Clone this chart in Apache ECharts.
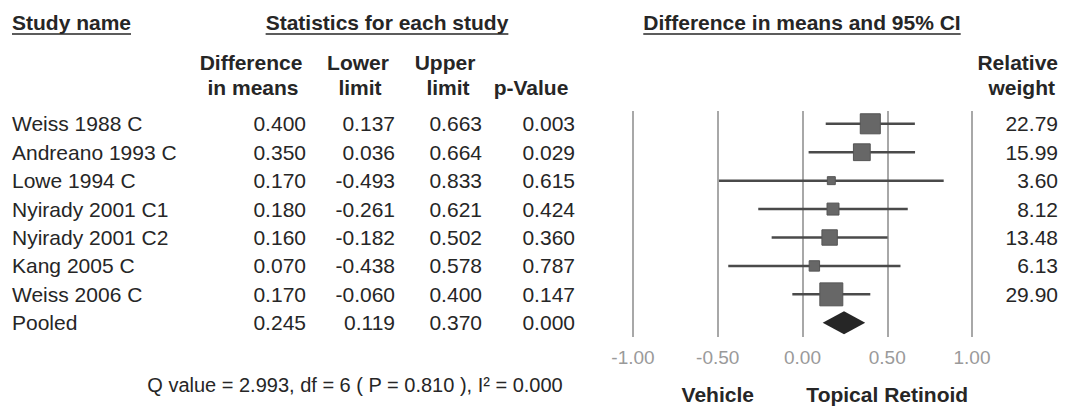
<!DOCTYPE html>
<html>
<head>
<meta charset="utf-8">
<script src="https://cdn.jsdelivr.net/npm/echarts@6/dist/echarts.min.js"></script>
<style>html,body{margin:0;padding:0;background:#fff}#chart{width:1067px;height:407px}</style>
</head>
<body>
<div id="chart"></div>
<script>
// ---- data ----
const studies = ['Weiss 1988 C', 'Andreano 1993 C', 'Lowe 1994 C', 'Nyirady 2001 C1', 'Nyirady 2001 C2', 'Kang 2005 C', 'Weiss 2006 C'];
const diffs = [0.400, 0.350, 0.170, 0.180, 0.160, 0.070, 0.170];
const lowers = [0.137, 0.036, -0.493, -0.261, -0.182, -0.438, -0.060];
const uppers = [0.663, 0.664, 0.833, 0.621, 0.502, 0.578, 0.400];
const pValues = [0.003, 0.029, 0.615, 0.424, 0.360, 0.787, 0.147];
const weights = [22.79, 15.99, 3.60, 8.12, 13.48, 6.13, 29.90];
const pooledName = 'Pooled';
const pooledStats = [0.245, 0.119, 0.370];
const pooledP = 0.000;
const qText = 'Q value = 2.993, df = 6 ( P = 0.810 ), I\u00b2 = 0.000';
const xTicks = [-1.0, -0.5, 0.0, 0.5, 1.0];
const favourLabels = ['Vehicle', 'Topical Retinoid'];

// ---- styling ----
const FONT = '"Liberation Sans", Arial, sans-serif';
const FS = 21;
const TXT = '#262626';
const colRight = [306, 395, 482, 575];
const weightRight = 1058;

const chart = echarts.init(document.getElementById('chart'), null, {renderer: 'svg'});

const measure = (() => {
  const c = document.createElement('canvas').getContext('2d');
  return (t, bold) => { c.font = (bold ? 'bold ' : '') + FS + 'px ' + FONT; return c.measureText(t).width; };
})();

const tableRows = studies.map((s, i) => [i, s, diffs[i], lowers[i], uppers[i], pValues[i], weights[i]]);
tableRows.push([studies.length, pooledName, pooledStats[0], pooledStats[1], pooledStats[2], pooledP, null]);

function txt(text, x, y, align, bold) {
  return {type: 'text', style: {text: text, x: x, y: y, align: align, verticalAlign: 'middle',
    font: (bold ? 'bold ' : '') + FS + 'px ' + FONT, fill: TXT}};
}

function headerWithLine(text, x, align) {
  const w = measure(text, true);
  const x0 = align === 'center' ? x - w / 2 : x;
  return [
    {type: 'text', style: {text: text, x: x, y: 22, align: align, verticalAlign: 'middle', font: 'bold ' + FS + 'px ' + FONT, fill: TXT}},
    {type: 'line', shape: {x1: x0, y1: 34, x2: x0 + w, y2: 34}, style: {stroke: TXT, lineWidth: 1.5}}
  ];
}

const graphics = [].concat(
  headerWithLine('Study name', 12, 'left'),
  headerWithLine('Statistics for each study', 387, 'center'),
  headerWithLine('Difference in means and 95% CI', 802, 'center'),
  [
    txt('Difference', 251, 62, 'center', true), txt('in means', 253, 87, 'center', true),
    txt('Lower', 358, 62, 'center', true), txt('limit', 360, 87, 'center', true),
    txt('Upper', 445, 62, 'center', true), txt('limit', 448, 87, 'center', true),
    txt('p-Value', 531, 87, 'center', true),
    txt('Relative', weightRight, 62, 'right', true), txt('weight', weightRight - 3, 87, 'right', true),
    {type: 'text', style: {text: qText, x: 355, y: 385, align: 'center', verticalAlign: 'middle', font: '20px ' + FONT, fill: TXT}}
  ]
);

const option = {
  animation: false,
  grid: {left: 633, top: 111, width: 339, height: 226, containLabel: false},
  xAxis: {
    type: 'value', min: -1, max: 1, interval: 0.5,
    axisLine: {show: false}, axisTick: {show: false},
    splitLine: {show: true, lineStyle: {color: '#a8a8a8', width: 2}},
    axisLabel: {color: '#9a9a9a', fontSize: 19, fontFamily: FONT, margin: 11,
      formatter: v => v.toFixed(2)}
  },
  yAxis: {type: 'value', inverse: true, min: -0.45, max: 7.5, show: false},
  graphic: graphics,
  series: [
    {
      // table text drawn at the rows of the y scale
      type: 'custom', clip: false, silent: true,
      data: tableRows,
      encode: {x: null, y: 0},
      renderItem: (params, api) => {
        const i = api.value(0);
        const row = tableRows[i];
        const y = api.coord([0, i])[1];
        const children = [txt(row[1], 12, y, 'left', false)];
        for (let k = 0; k < 4; k++) children.push(txt(row[2 + k].toFixed(3), colRight[k], y, 'right', false));
        if (row[6] != null) children.push(txt(row[6].toFixed(2), weightRight, y, 'right', false));
        return {type: 'group', children: children};
      }
    },
    {
      // study CIs and weighted squares
      type: 'custom', clip: false,
      data: studies.map((s, i) => [diffs[i], i, lowers[i], uppers[i], weights[i]]),
      encode: {x: [0, 2, 3], y: 1},
      renderItem: (params, api) => {
        const c = api.coord([api.value(0), api.value(1)]);
        const lo = api.coord([api.value(2), api.value(1)]);
        const hi = api.coord([api.value(3), api.value(1)]);
        const s = 4.2 * Math.sqrt(api.value(4));
        return {type: 'group', children: [
          {type: 'line', shape: {x1: lo[0], y1: lo[1], x2: hi[0], y2: hi[1]}, style: {stroke: '#4a4a4a', lineWidth: 2.5}},
          {type: 'rect', shape: {x: c[0] - s / 2, y: c[1] - s / 2, width: s, height: s},
            style: {fill: '#676767', stroke: '#555', lineWidth: 1}}
        ]};
      }
    },
    {
      // pooled diamond
      type: 'custom', clip: false,
      data: [[pooledStats[0], studies.length, pooledStats[1], pooledStats[2]]],
      encode: {x: [0, 2, 3], y: 1},
      renderItem: (params, api) => {
        const yv = api.value(1);
        const c = api.coord([api.value(0), yv]);
        const lo = api.coord([api.value(2), yv]);
        const hi = api.coord([api.value(3), yv]);
        const h = 11.5;
        return {type: 'polygon', shape: {points: [[lo[0], c[1]], [c[0], c[1] - h], [hi[0], c[1]], [c[0], c[1] + h]]},
          style: {fill: '#262626'}};
      }
    },
    {
      // favour labels under the axis
      type: 'custom', clip: false, silent: true,
      data: [[-0.5, 0], [0.5, 1]],
      encode: {x: 0},
      renderItem: (params, api) => {
        const x = api.coord([api.value(0), 0])[0];
        return {type: 'text', style: {text: favourLabels[api.value(1)], x: x, y: 394, align: 'center', verticalAlign: 'middle',
          font: 'bold ' + FS + 'px ' + FONT, fill: TXT}};
      }
    }
  ]
};
chart.setOption(option);
</script>
</body>
</html>
